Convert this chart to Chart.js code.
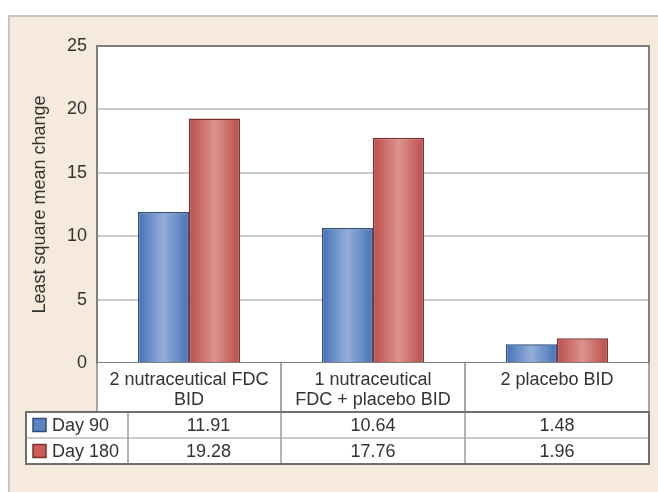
<!DOCTYPE html>
<html><head><meta charset="utf-8">
<script src="https://cdn.jsdelivr.net/npm/chart.js@4/dist/chart.umd.min.js"></script>
<style>html,body{margin:0;padding:0;background:#fff}#wrap{width:658px;height:492px}</style>
</head><body><div id="wrap"><canvas id="c" width="658" height="492"></canvas></div>
<script>
const categories = [["2 nutraceutical FDC", "BID"], ["1 nutraceutical", "FDC + placebo BID"], ["2 placebo BID"]];
const seriesNames = ["Day 90", "Day 180"];
const day90 = [11.91, 10.64, 1.48];
const day180 = [19.28, 17.76, 1.96];
const yTicks = [0, 5, 10, 15, 20, 25];

const FONT = "'Liberation Sans', Arial, sans-serif";
const TXT = '#333333';
const seriesStyle = [
  {edge: '#4472b4', mid: '#94afdb', border: '#2f4d7e', key: '#5b84c4'},
  {edge: '#bd4c49', mid: '#dc938f', border: '#7c302e', key: '#cd5b58'}
];

const panelPlugin = {
  id: 'panel',
  beforeDraw(chart) {
    const ctx = chart.ctx, a = chart.chartArea;
    ctx.save();
    ctx.fillStyle = '#ffffff';
    ctx.fillRect(0, 0, chart.width, chart.height);
    ctx.fillStyle = '#f6eadc';
    ctx.fillRect(8, 15, chart.width - 8, chart.height - 15);
    ctx.strokeStyle = '#c9c6c2';
    ctx.lineWidth = 2;
    ctx.beginPath();
    ctx.moveTo(9, chart.height); ctx.lineTo(9, 16); ctx.lineTo(chart.width, 16);
    ctx.stroke();
    ctx.fillStyle = '#ffffff';
    ctx.fillRect(a.left, a.top, a.right - a.left, a.bottom - a.top);
    ctx.restore();
  },
  beforeDatasetsDraw(chart) {
    const ctx = chart.ctx;
    chart.data.datasets.forEach((ds, di) => {
      const meta = chart.getDatasetMeta(di);
      const st = seriesStyle[di];
      meta.data.forEach(bar => {
        const g = ctx.createLinearGradient(bar.x - bar.width / 2, 0, bar.x + bar.width / 2, 0);
        g.addColorStop(0, st.edge);
        g.addColorStop(0.5, st.mid);
        g.addColorStop(1, st.edge);
        bar.options = Object.assign({}, bar.options, {backgroundColor: g});
      });
    });
  },
  afterDraw(chart) {
    const ctx = chart.ctx, a = chart.chartArea, xs = chart.scales.x;
    const half = (xs.getPixelForValue(1) - xs.getPixelForValue(0)) / 2;
    const centers = categories.map((c, i) => xs.getPixelForValue(i));
    const labelTop = a.bottom, labelBottom = a.bottom + 49;
    const tableLeft = 26, keyRight = 128, rowH = 26;
    const tableBottom = labelBottom + rowH * 2;
    ctx.save();
    // plot border top/right
    ctx.strokeStyle = '#7f7f7f';
    ctx.lineWidth = 2;
    ctx.beginPath();
    ctx.moveTo(a.left, a.top); ctx.lineTo(a.right, a.top); ctx.lineTo(a.right, a.bottom);
    ctx.stroke();
    // label row
    ctx.fillStyle = '#ffffff';
    ctx.fillRect(a.left, labelTop, a.right - a.left, labelBottom - labelTop);
    ctx.fillRect(tableLeft, labelBottom, a.right - tableLeft, tableBottom - labelBottom);
    ctx.strokeStyle = '#8a8a8a';
    ctx.lineWidth = 1.5;
    ctx.beginPath();
    [a.left].concat(centers.map(c => c + half)).forEach(x => {
      ctx.moveTo(x, labelTop); ctx.lineTo(x, labelBottom);
    });
    ctx.stroke();
    ctx.fillStyle = TXT;
    ctx.font = '18px ' + FONT;
    ctx.textAlign = 'center';
    ctx.textBaseline = 'middle';
    categories.forEach((lines, i) => {
      lines.forEach((t, li) => ctx.fillText(t, centers[i], labelTop + 17 + li * 20));
    });
    // data rows
    ctx.strokeStyle = '#bdbdbd';
    ctx.lineWidth = 1.5;
    ctx.beginPath();
    ctx.moveTo(tableLeft, labelBottom + rowH); ctx.lineTo(a.right, labelBottom + rowH);
    ctx.stroke();
    ctx.strokeStyle = '#9a9a9a';
    ctx.beginPath();
    [keyRight, centers[0] + half, centers[1] + half].forEach(x => {
      ctx.moveTo(x, labelBottom); ctx.lineTo(x, tableBottom);
    });
    ctx.stroke();
    ctx.strokeStyle = '#6f6f6f';
    ctx.lineWidth = 2;
    ctx.strokeRect(tableLeft, labelBottom, a.right - tableLeft, tableBottom - labelBottom);
    const series = [day90, day180];
    series.forEach((vals, si) => {
      const cy = labelBottom + rowH * si + rowH / 2;
      const st = seriesStyle[si];
      ctx.fillStyle = st.key;
      ctx.fillRect(33, cy - 6.5, 13, 13);
      ctx.strokeStyle = st.border;
      ctx.lineWidth = 1.5;
      ctx.strokeRect(33, cy - 6.5, 13, 13);
      ctx.fillStyle = TXT;
      ctx.textAlign = 'left';
      ctx.fillText(seriesNames[si], 52, cy + 1);
      ctx.textAlign = 'center';
      vals.forEach((v, i) => {
        const l = i === 0 ? keyRight : centers[i] - half;
        const r = centers[i] + half;
        ctx.fillText(v.toFixed(2), (l + r) / 2 + (i === 0 ? 4 : 0), cy + 1);
      });
    });
    ctx.restore();
  }
};

new Chart(document.getElementById('c'), {
  type: 'bar',
  data: {
    labels: categories,
    datasets: [
      {label: seriesNames[0], data: day90, borderColor: seriesStyle[0].border, borderWidth: 1.5, backgroundColor: seriesStyle[0].edge},
      {label: seriesNames[1], data: day180, borderColor: seriesStyle[1].border, borderWidth: 1.5, backgroundColor: seriesStyle[1].edge}
    ]
  },
  options: {
    responsive: false,
    animation: false,
    devicePixelRatio: 1,
    layout: {padding: {left: 0, top: 46, right: 9, bottom: 129}},
    plugins: {legend: {display: false}, tooltip: {enabled: false}},
    datasets: {bar: {categoryPercentage: 0.555, barPercentage: 1}},
    scales: {
      x: {
        ticks: {display: false},
        grid: {display: false},
        border: {color: '#7f7f7f', width: 2},
        afterFit: s => { s.height = 0; }
      },
      y: {
        min: 0, max: 25,
        afterBuildTicks: s => { s.ticks = yTicks.map(v => ({value: v})); },
        ticks: {font: {family: FONT, size: 18}, color: TXT, padding: 10},
        grid: {color: '#cccccc', lineWidth: 2, drawTicks: false},
        border: {color: '#7f7f7f', width: 2},
        title: {display: true, text: 'Least square mean change', font: {family: FONT, size: 18}, color: TXT, padding: {top: 29, bottom: 0}},
        afterFit: s => { s.width = 97; }
      }
    }
  },
  plugins: [panelPlugin]
});
</script>
</body></html>
